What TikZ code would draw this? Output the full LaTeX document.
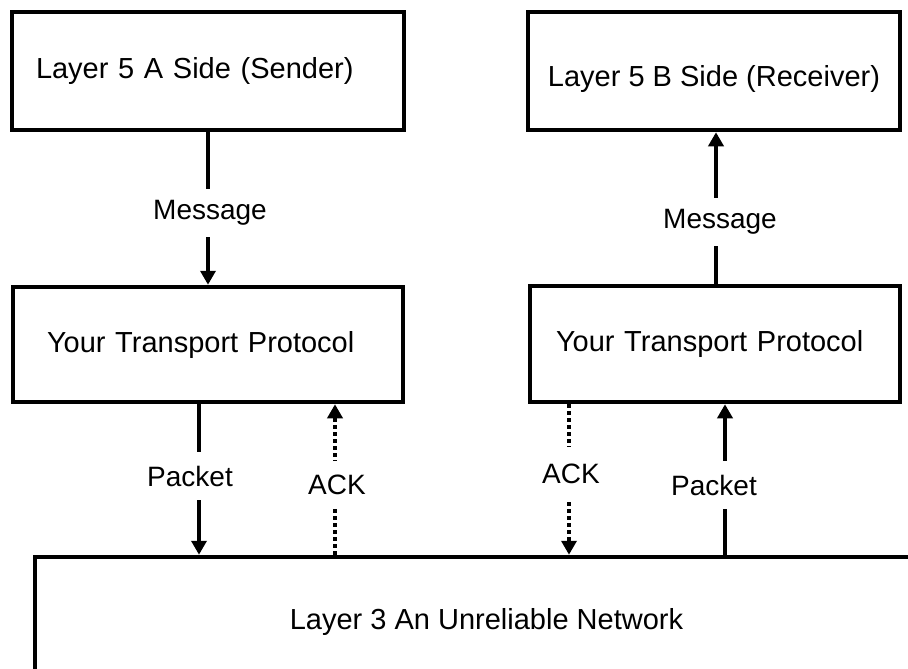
\documentclass[tikz,border=0pt]{standalone}
\usepackage{fontspec}
\setmainfont{Liberation Sans}
\usetikzlibrary{arrows.meta}

\tikzset{
  layerbox/.style={draw, line width=4.5pt, font=\fontsize{29}{34}\selectfont},
  tag/.style={fill=white, minimum height=48pt, inner xsep=2pt, font=\fontsize{28}{33}\selectfont},
  solidarrow/.style={line width=4pt, -{Triangle[length=14pt,width=15pt]}},
  dotarrow/.style={solidarrow, dash pattern=on 4pt off 3pt}
}

\begin{document}
\begin{tikzpicture}[x=1pt, y=-1pt]
    \useasboundingbox (0,0) rectangle (908,669);
    \clip (0,0) rectangle (908,669);

    % layer 5
    \node[layerbox, minimum width=392pt, minimum height=118pt, text width=344pt, inner xsep=24pt, align=left] (sendA) at (208, 71) {Layer 5 A Side (Sender)};
    \node[layerbox, minimum width=372pt, minimum height=118pt, text height=38pt, text depth=6pt] (recvB) at (714, 71) {Layer 5 B Side (Receiver)};

    % transport
    \node[layerbox, minimum width=390pt, minimum height=115pt, text width=322pt, inner xsep=34pt, align=left] (protoA) at (208, 344.5) {Your Transport Protocol};
    \node[layerbox, minimum width=370pt, minimum height=116pt, text width=318pt, inner xsep=26pt, align=left] (protoB) at (715, 344) {Your Transport Protocol};

    % layer 3, runs off the page
    \node[layerbox, minimum width=903pt, minimum height=130pt] (net) at (486.5, 622) {Layer 3 An Unreliable Network};

    \coordinate (msgAx) at (208, 0);
    \coordinate (msgBx) at (716, 0);
    \coordinate (pktAx) at (199, 0);
    \coordinate (ackAx) at (335, 0);
    \coordinate (ackBx) at (569, 0);
    \coordinate (pktBx) at (725, 0);

    \draw[solidarrow] (sendA.south -| msgAx) -- (protoA.north -| msgAx);
    \draw[solidarrow] (protoB.north -| msgBx) -- (recvB.south -| msgBx);
    \draw[solidarrow] (protoA.south -| pktAx) -- (net.north -| pktAx);
    \draw[dotarrow] (net.north -| ackAx) -- (protoA.south -| ackAx);
    \draw[dotarrow] (protoB.south -| ackBx) -- (net.north -| ackBx);
    \draw[solidarrow] (net.north -| pktBx) -- (protoB.south -| pktBx);

    \node[tag] (msgA) at (210, 213) {Message};
    \node[tag] (msgB) at (720, 222) {Message};
    \node[tag] (pktA) at (190, 476) {Packet};
    \node[tag] (ackA) at (337, 485) {ACK};
    \node[tag, minimum height=55pt] (ackB) at (571, 474) {ACK};
    \node[tag] (pktB) at (714, 485) {Packet};
\end{tikzpicture}
\end{document}
